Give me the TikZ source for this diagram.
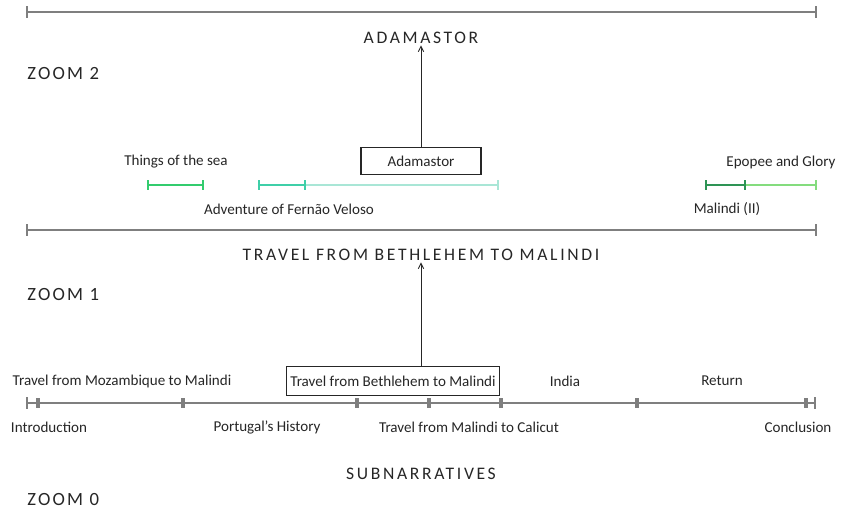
\documentclass[tikz,border=0pt]{standalone}
\usepackage{fontspec}
\setmainfont{Carlito}
\newfontfamily\spacedfont[LetterSpace=15]{Carlito}
\newfontfamily\zoomfont[LetterSpace=12]{Carlito}
\usetikzlibrary{arrows.meta}
\definecolor{linegrey}{HTML}{7F7F7F}
\definecolor{txt}{HTML}{262626}
\definecolor{sea}{HTML}{33CC6E}
\definecolor{adv}{HTML}{3FCFA8}
\definecolor{advlight}{HTML}{A9E6D6}
\definecolor{mal}{HTML}{2E9455}
\definecolor{epo}{HTML}{84DC7E}
\tikzset{
  lbl/.style={font=\fontsize{11.3}{13}\selectfont, text=txt, inner sep=1pt},
  title/.style={font=\spacedfont\fontsize{13.2}{15}\selectfont, text=txt, inner sep=1pt},
  zoomlbl/.style={font=\zoomfont\fontsize{14}{16}\selectfont, text=txt, inner sep=0pt, anchor=west},
  boxed/.style={lbl, draw=txt, line width=0.8pt, inner sep=3pt, minimum height=21.5pt},
  axis/.style={draw=linegrey, line width=1.5pt},
  endtick/.style={draw=linegrey, line width=1pt},
  bigtick/.style={draw=linegrey, line width=2.4pt},
  seg/.style={line width=1.6pt},
  arr/.style={draw=txt, line width=0.7pt, -{Straight Barb[length=4pt,width=4pt]}}
}
\begin{document}
\begin{tikzpicture}[x=0.75pt,y=-0.75pt]
\useasboundingbox (0,0) rectangle (844,515);
% top axis
\coordinate (tA) at (27,12); \coordinate (tB) at (816,12);
\draw[axis] (tA) -- (tB);
\draw[endtick] (27,6) -- (27,18); \draw[endtick] (816,6) -- (816,18);
\node[title] (adamT) at (421,38) {ADAMASTOR};
\node[zoomlbl] (z2) at (27,74) {ZOOM 2};
% zoom 2 box
\node[boxed, minimum width=90pt, minimum height=20pt] (adamB) at (421,161) {Adamastor};
\draw[arr] (adamB.north) -- (adamT.south);
% zoom 2 segments
\draw[seg, sea] (148,185) -- (203,185);
\draw[seg, sea, line width=1pt] (148,180) -- (148,190) (203,180) -- (203,190);
\draw[seg, adv] (259,185) -- (305,185);
\draw[seg, advlight] (305,185) -- (498,185);
\draw[adv, line width=1pt] (259,180) -- (259,190) (305,180) -- (305,190);
\draw[advlight, line width=1pt] (498,180) -- (498,190);
\draw[seg, mal] (706,185) -- (745,185);
\draw[seg, epo] (745,185) -- (816,185);
\draw[mal, line width=1pt] (706,180) -- (706,190) (745,180) -- (745,190);
\draw[epo, line width=1pt] (816,180) -- (816,190);
\node[lbl] (sea) at (176,162) {Things of the sea};
\node[lbl] (advL) at (289,209) {Adventure of Fernão Veloso};
\node[lbl] (epoL) at (781,162) {Epopee and Glory};
\node[lbl] (malL) at (727,209) {Malindi (II)};
% middle axis
\draw[axis] (27,230) -- (816,230);
\draw[endtick] (27,224) -- (27,236); \draw[endtick] (816,224) -- (816,236);
\node[title] (travT) at (421,255) {TRAVEL FROM BETHLEHEM TO MALINDI};
\node[zoomlbl] (z1) at (27,295) {ZOOM 1};
% zoom 1 / bottom
\node[boxed] (travB) at (393,381) {Travel from Bethlehem to Malindi};
\draw[arr] (travB.north -| travT.south) -- (travT.south);
\draw[axis] (27,403) -- (815,403);
\draw[endtick] (27,397) -- (27,409); \draw[endtick] (815,397) -- (815,409);
\foreach \x in {38,183,357,429,501,637,806} \draw[bigtick] (\x,398) -- (\x,408);
\node[lbl] at (122,381) {Travel from Mozambique to Malindi};
\node[lbl] at (565,381) {India};
\node[lbl] at (722,381) {Return};
\node[lbl] at (49,427) {Introduction};
\node[lbl] at (267,427) {Portugal’s History};
\node[lbl] at (469,427) {Travel from Malindi to Calicut};
\node[lbl] at (798,427) {Conclusion};
\node[title] (sub) at (421,474) {SUBNARRATIVES};
\node[zoomlbl] (z0) at (27,500) {ZOOM 0};
\end{tikzpicture}
\end{document}
